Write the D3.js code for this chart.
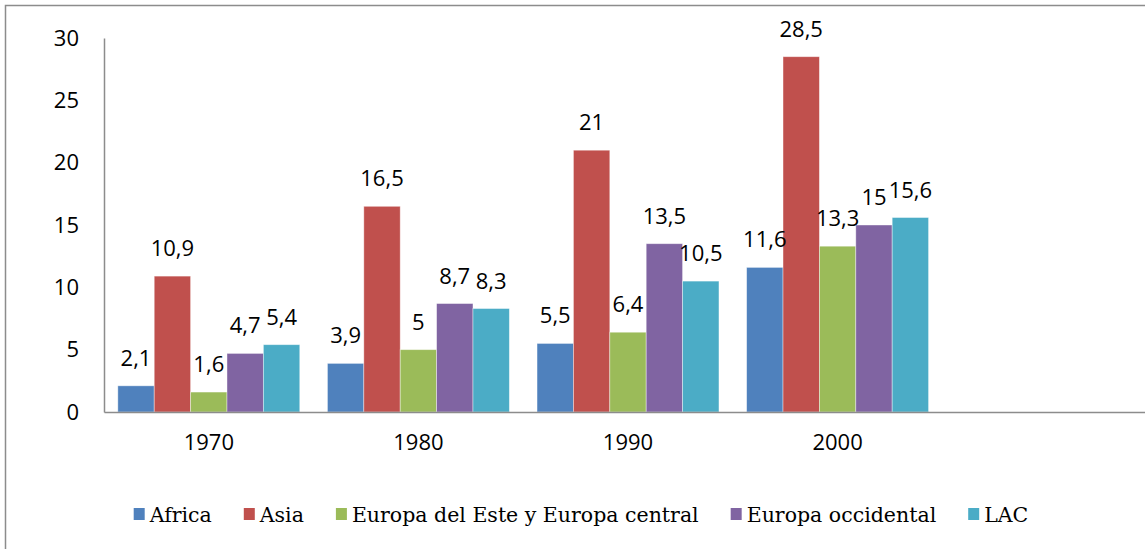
<!DOCTYPE html>
<html>
<head>
<meta charset="utf-8">
<script src="https://cdn.jsdelivr.net/npm/d3@7"></script>
<style>
  body { margin: 0; background: #fff; }
  svg { display: block; }
</style>
</head>
<body>
<svg id="chart" width="1145" height="549"></svg>
<script>
const categories = ["1970", "1980", "1990", "2000"];
const seriesNames = ["Africa", "Asia", "Europa del Este y Europa central", "Europa occidental", "LAC"];
const africa = [2.1, 3.9, 5.5, 11.6];
const asia = [10.9, 16.5, 21, 28.5];
const europaEste = [1.6, 5, 6.4, 13.3];
const europaOcc = [4.7, 8.7, 13.5, 15];
const lac = [5.4, 8.3, 10.5, 15.6];
const yTicks = [0, 5, 10, 15, 20, 25, 30];
const colors = ["#4F81BD", "#C0504D", "#9BBB59", "#8064A2", "#4BACC6"];

const seriesValues = [africa, asia, europaEste, europaOcc, lac];
const rows = [];
seriesValues.forEach((vals, s) => {
    vals.forEach((v, i) => rows.push({cat: categories[i], series: seriesNames[s], value: v, s: s}));
});

const svg = d3.select("#chart");
const numFont = "'Open Sans', sans-serif";

// outer frame (right/bottom edges fall outside the picture)
svg.append("rect")
    .attr("x", 5.5).attr("y", 5.5)
    .attr("width", 1160).attr("height", 560)
    .attr("fill", "none")
    .attr("stroke", "#8c8c8c")
    .attr("stroke-width", 1.5);

const plotLeft = 104, plotRight = 1152, plotTop = 38, plotBottom = 412;

// an empty fifth slot keeps the axis running past 2000 as in the original
const x0 = d3.scaleBand()
    .domain(categories.concat([" "]))
    .range([plotLeft, plotRight])
    .paddingInner(0.132)
    .paddingOuter(0.066);

const x1 = d3.scaleBand()
    .domain(seriesNames)
    .range([0, x0.bandwidth()]);

const y = d3.scaleLinear().domain([0, 30]).range([plotBottom, plotTop]);

// y axis
const yAxis = svg.append("g")
    .attr("transform", "translate(" + plotLeft + ",0)")
    .call(d3.axisLeft(y).tickValues(yTicks).tickSize(0).tickPadding(25));
yAxis.select(".domain").attr("stroke", "#8c8c8c").attr("stroke-width", 1.5);
yAxis.selectAll("text")
    .attr("font-family", numFont)
    .attr("font-size", 22)
    .attr("fill", "#000");

// bars
svg.append("g").selectAll("rect")
    .data(rows)
    .enter().append("rect")
    .attr("x", d => x0(d.cat) + x1(d.series))
    .attr("y", d => y(d.value))
    .attr("width", x1.bandwidth())
    .attr("height", d => plotBottom - y(d.value))
    .attr("fill", d => colors[d.s])
    .attr("stroke", "#ffffff")
    .attr("stroke-opacity", 0.5)
    .attr("stroke-width", 0.8);

// value labels
svg.append("g").selectAll("text")
    .data(rows)
    .enter().append("text")
    .attr("x", d => x0(d.cat) + x1(d.series) + x1.bandwidth() / 2)
    .attr("y", d => y(d.value) - 20)
    .attr("text-anchor", "middle")
    .attr("font-family", numFont)
    .attr("font-size", 22)
    .attr("fill", "#000")
    .text(d => String(d.value).replace(".", ","));

// x axis
const xAxis = svg.append("g")
    .attr("transform", "translate(0," + plotBottom + ")")
    .call(d3.axisBottom(x0).tickSize(0).tickPadding(22));
xAxis.select(".domain").attr("stroke", "#8c8c8c").attr("stroke-width", 1.5);
xAxis.selectAll("text")
    .attr("font-family", numFont)
    .attr("font-size", 22)
    .attr("fill", "#000");

// legend
const legend = svg.append("g");
let lx = 0;
seriesNames.forEach((name, i) => {
    const item = legend.append("g").attr("transform", "translate(" + lx + ",0)");
    item.append("rect")
        .attr("x", 0).attr("y", -7)
        .attr("width", 11).attr("height", 12)
        .attr("fill", colors[i]);
    const t = item.append("text")
        .attr("x", 16).attr("y", 7)
        .attr("font-family", "'DejaVu Serif', serif")
        .attr("font-size", 20.5)
        .attr("fill", "#000")
        .text(name);
    lx += 16 + t.node().getComputedTextLength() + 32;
});
const legendWidth = lx - 32;
legend.attr("transform", "translate(" + (581 - legendWidth / 2) + ",515)");
</script>
</body>
</html>
